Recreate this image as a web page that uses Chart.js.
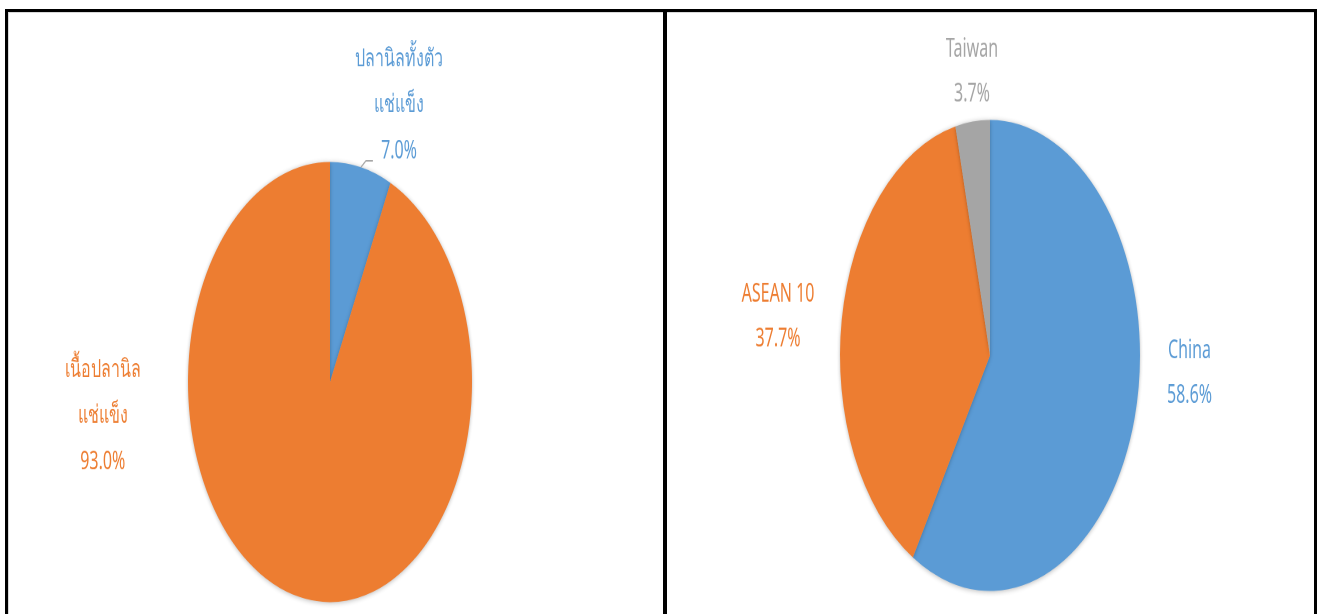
<!DOCTYPE html>
<html>
<head>
<meta charset="utf-8">
<script src="https://cdn.jsdelivr.net/npm/chart.js@4.4.0/dist/chart.umd.min.js"></script>
<style>
  body { margin: 0; background: #fff; width: 1323px; height: 614px; overflow: hidden; position: relative; }
  #frame { position: absolute; left: 5px; top: 9px; width: 1306px; height: 700px;
           border-top: 3px solid #000; border-left: 3px solid #000; border-right: 3px solid #000;
           box-shadow: inset 1px 1px 0 #d9d9d9; }
  #divider { position: absolute; left: 663px; top: 9px; width: 4px; height: 700px; background: #000; }
  .panel { position: absolute; top: 12px; transform-origin: 0 0; }
  #left-wrap { left: 8px; transform: scaleY(1.55); }
  #right-wrap { left: 667px; transform: scaleY(1.57); }
</style>
</head>
<body>
<div id="frame"></div>
<div id="divider"></div>
<div id="left-wrap" class="panel"><canvas id="product-pie" width="655" height="388" style="width:655px;height:388px"></canvas></div>
<div id="right-wrap" class="panel"><canvas id="market-pie" width="646" height="388" style="width:646px;height:388px"></canvas></div>

<script>
/***** Data *****/
// Left pie: product type share
const productLabels = [["ปลานิลทั้งตัว", "แช่แข็ง"], ["เนื้อปลานิล", "แช่แข็ง"]];
const productValues = [7.0, 93.0];
const productColors = ["#5B9BD5", "#ED7D31"];

// Right pie: market share
const marketLabels = [["China"], ["ASEAN 10"], ["Taiwan"]];
const marketValues = [58.6, 37.7, 3.7];
const marketColors = ["#5B9BD5", "#ED7D31", "#A5A5A5"];

/***** Plugins *****/
// Soft drop shadow under the pie, like the spreadsheet style
const pieShadow = {
  id: "pieShadow",
  beforeDatasetsDraw: (chart) => {
    const ctx = chart.ctx;
    ctx.save();
    ctx.shadowColor = "rgba(0,0,0,0.28)";
    ctx.shadowBlur = 7;
    ctx.shadowOffsetX = 0;
    ctx.shadowOffsetY = 1;
  },
  afterDatasetsDraw: (chart) => {
    chart.ctx.restore();
  },
};

// Draws the category name and percentage next to each slice
const outsideLabels = {
  id: "outsideLabels",
  afterDatasetsDraw: (chart, args, opts) => {
    const ctx = chart.ctx;
    const meta = chart.getDatasetMeta(0);
    const ds = chart.data.datasets[0];
    meta.data.forEach((arc, i) => {
      const r = arc.outerRadius;
      const place = opts.place[i];
      const cx = arc.x + place[0] * r;
      const cy = arc.y + place[1] * r;
      const lines = chart.data.labels[i].concat([ds.data[i].toFixed(1) + "%"]);
      const top = cy - ((lines.length - 1) * opts.lineGap) / 2;
      ctx.save();
      ctx.fillStyle = ds.backgroundColor[i];
      ctx.font = '16px "Noto Sans", "DejaVu Sans", sans-serif';
      ctx.textAlign = "center";
      ctx.textBaseline = "middle";
      lines.forEach((txt, k) => ctx.fillText(txt, cx, top + k * opts.lineGap));

      // short leader line from the slice edge
      if (opts.leader && opts.leader[i]) {
        const mid = (arc.startAngle + arc.endAngle) / 2;
        const x0 = arc.x + Math.cos(mid) * r;
        const y0 = arc.y + Math.sin(mid) * r;
        const x1 = arc.x + Math.cos(mid) * r * 1.03 + 4;
        const y1 = arc.y + Math.sin(mid) * r * 1.03;
        ctx.strokeStyle = "#A6A6A6";
        ctx.lineWidth = 1;
        ctx.beginPath();
        ctx.moveTo(x0, y0);
        ctx.lineTo(x1, y1);
        ctx.lineTo(x1 + 7, y1);
        ctx.stroke();
      }
      ctx.restore();
    });
  },
};

/***** Charts *****/
const makePie = (canvasId, labels, values, colors, padding, place, lineGap, leader) => {
  return new Chart(document.querySelector(canvasId), {
    type: "pie",
    data: {
      labels: labels,
      datasets: [
        {
          data: values,
          backgroundColor: colors,
          borderWidth: 0,
          hoverOffset: 0,
        },
      ],
    },
    options: {
      responsive: false,
      devicePixelRatio: 2,
      animation: false,
      layout: { padding: padding },
      plugins: {
        legend: { display: false },
        tooltip: { enabled: false },
        outsideLabels: { place: place, lineGap: lineGap, leader: leader },
      },
    },
    plugins: [pieShadow, outsideLabels],
  });
};

makePie(
  "#product-pie",
  productLabels,
  productValues,
  productColors,
  { left: 180, right: 191, top: 96.7, bottom: 7.3 },
  [[0.486, -1.258], [-1.6, 0.154]],
  29.7,
  [true, false]
);

makePie(
  "#market-pie",
  marketLabels,
  marketValues,
  marketColors,
  { left: 173, right: 173, top: 68.8, bottom: 19.2 },
  [[1.33, 0.075], [-1.413, -0.165], [-0.12, -1.205]],
  28.3,
  [false, false, false]
);
</script>
</body>
</html>
